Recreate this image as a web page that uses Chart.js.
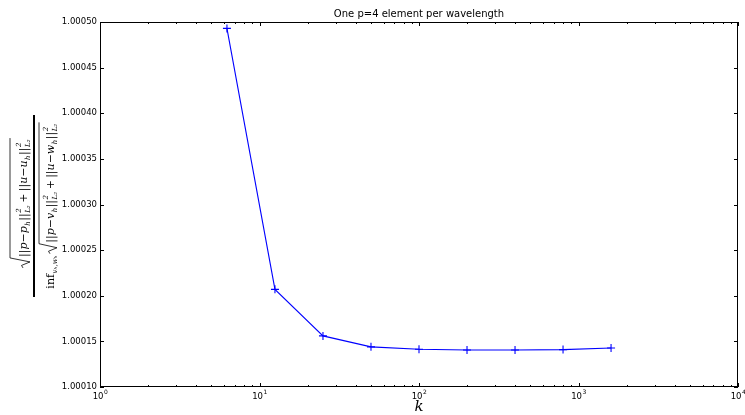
<!DOCTYPE html>
<html>
<head>
<meta charset="utf-8">
<script src="https://cdn.jsdelivr.net/npm/chart.js@4.4.1/dist/chart.umd.min.js"></script>
<style>
  html, body { margin: 0; padding: 0; background: #fff; }
  #wrap { width: 745px; height: 415px; }
</style>
</head>
<body>
<div id="wrap"><canvas id="ratioChart" width="745" height="415"></canvas></div>
<script>
// k values (elements per wavelength sweep) and the error ratio
const kValues = [6.25, 12.5, 25, 50, 100, 200, 400, 800, 1600];
const ratioValues = [1.000493, 1.000207, 1.000156, 1.000144, 1.0001414, 1.0001406, 1.0001406, 1.000141, 1.0001428];

const xMajorTicks = [1, 10, 100, 1000, 10000];
const xTickExponents = ["0", "1", "2", "3", "4"];
const yTicks = [1.0001, 1.00015, 1.0002, 1.00025, 1.0003, 1.00035, 1.0004, 1.00045, 1.0005];
const yTickLabels = ["1.00010", "1.00015", "1.00020", "1.00025", "1.00030", "1.00035", "1.00040", "1.00045", "1.00050"];

const titleText = "One p=4 element per wavelength";
const xTitle = "k";

// pieces of the y-axis fraction (strings = main font, objects = scripts)
const numItems = ["||p−p", { sub: "h" }, "||", { sup: "2", sub: "L₂" }, "\u2009+\u2009||u−u", { sub: "h" }, "||", { sup: "2", sub: "L₂" }];
const denItems = ["||p−v", { sub: "h" }, "||", { sup: "2", sub: "L₂" }, "\u2009+\u2009||u−w", { sub: "h" }, "||", { sup: "2", sub: "L₂" }];

const mainFont = 'italic 11px "DejaVu Serif"';
const scriptFont = 'italic 7px "DejaVu Serif"';

function runMath(ctx, items, x, b, draw) {
  items.forEach((it) => {
    if (typeof it === "string") {
      ctx.font = mainFont;
      if (draw) ctx.fillText(it, x, b);
      x += ctx.measureText(it).width;
    } else {
      ctx.font = scriptFont;
      let w = 0;
      if (it.sup) {
        if (draw) ctx.fillText(it.sup, x + 0.5, b - 6);
        w = Math.max(w, ctx.measureText(it.sup).width);
      }
      if (it.sub) {
        if (draw) ctx.fillText(it.sub, x + 0.5, b + 3);
        w = Math.max(w, ctx.measureText(it.sub).width);
      }
      x += w + 1;
    }
  });
  return x;
}

function drawRadical(ctx, x0, b, top, end) {
  ctx.beginPath();
  ctx.moveTo(x0, b - 4);
  ctx.lineTo(x0 + 2.5, b - 5.5);
  ctx.lineTo(x0 + 6, b + 3);
  ctx.lineTo(x0 + 10, top);
  ctx.lineTo(end, top);
  ctx.stroke();
}

const decor = {
  id: "decor",
  afterDraw(chart) {
    const ctx = chart.ctx;
    const a = chart.chartArea;
    const xs = chart.scales.x;
    const ys = chart.scales.y;
    ctx.save();
    ctx.strokeStyle = "#000";
    ctx.fillStyle = "#000";
    ctx.lineWidth = 1;

    // frame
    ctx.strokeRect(Math.round(a.left) + 0.5, Math.round(a.top) + 0.5,
      Math.round(a.right - a.left) - 1, Math.round(a.bottom - a.top) - 1);

    // ticks, pointing inward
    const tick = (x1, y1, x2, y2) => {
      ctx.beginPath(); ctx.moveTo(x1, y1); ctx.lineTo(x2, y2); ctx.stroke();
    };
    xMajorTicks.forEach((v, i) => {
      const px = Math.round(xs.getPixelForValue(v)) + 0.5;
      tick(px, a.bottom, px, a.bottom - 4);
      tick(px, a.top, px, a.top + 4);
      if (i < xMajorTicks.length - 1) {
        for (let m = 2; m <= 9; m++) {
          const mx = Math.round(xs.getPixelForValue(v * m)) + 0.5;
          tick(mx, a.bottom, mx, a.bottom - 2);
          tick(mx, a.top, mx, a.top + 2);
        }
      }
    });
    yTicks.forEach((v) => {
      const py = Math.round(ys.getPixelForValue(v)) + 0.5;
      tick(a.left, py, a.left + 4, py);
      tick(a.right, py, a.right - 4, py);
    });

    // x tick labels as 10^n
    ctx.textBaseline = "alphabetic";
    xMajorTicks.forEach((v, i) => {
      const px = xs.getPixelForValue(v);
      ctx.font = '8.5px "DejaVu Sans"';
      const wb = ctx.measureText("10").width;
      ctx.font = '6px "DejaVu Sans"';
      const we = ctx.measureText(xTickExponents[i]).width;
      const x0 = px - (wb + we) / 2;
      ctx.font = '8.5px "DejaVu Sans"';
      ctx.textAlign = "left";
      ctx.fillText("10", x0, a.bottom + 12);
      ctx.font = '6px "DejaVu Sans"';
      ctx.fillText(xTickExponents[i], x0 + wb + 0.5, a.bottom + 7);
    });

    // title
    ctx.textAlign = "center";
    ctx.font = '10px "DejaVu Sans"';
    ctx.fillText(titleText, (a.left + a.right) / 2, 17);

    // x axis title
    ctx.font = 'italic 15px "DejaVu Serif"';
    ctx.fillText(xTitle, (a.left + a.right) / 2, 411);

    // y axis title: rotated fraction
    ctx.translate(34, 206);
    ctx.rotate(-Math.PI / 2);
    ctx.textAlign = "left";
    ctx.lineWidth = 0.8;

    const bN = -7;
    const numW = runMath(ctx, numItems, 0, bN, false);
    const numTotal = 11 + numW;
    const nx0 = 2.5 - numTotal / 2;
    drawRadical(ctx, nx0, bN, bN - 17, nx0 + numTotal + 1);
    runMath(ctx, numItems, nx0 + 11, bN, true);

    ctx.fillRect(-91, -1, 182, 2);

    const bD = 20;
    ctx.font = '11px "DejaVu Serif"';
    const infW = ctx.measureText("inf").width;
    ctx.font = scriptFont;
    const subW = ctx.measureText("vₕ,wₕ").width;
    const denW = runMath(ctx, denItems, 0, bD, false);
    const denTotal = infW + subW + 2 + 11 + denW;
    let dx = -denTotal / 2;
    ctx.font = '11px "DejaVu Serif"';
    ctx.fillText("inf", dx, bD);
    dx += infW;
    ctx.font = scriptFont;
    ctx.fillText("vₕ,wₕ", dx + 0.5, bD + 3);
    dx += subW + 2;
    drawRadical(ctx, dx, bD, bD - 15, dx + 11 + denW + 1);
    runMath(ctx, denItems, dx + 11, bD, true);

    ctx.restore();
  }
};

new Chart(document.getElementById("ratioChart"), {
  type: "line",
  data: {
    datasets: [
      {
        data: kValues.map((k, i) => ({ x: k, y: ratioValues[i] })),
        borderColor: "#0000ff",
        borderWidth: 1.1,
        pointStyle: "cross",
        pointRadius: 4,
        pointBorderColor: "#0000ff",
        pointBorderWidth: 1.1,
        tension: 0,
        fill: false
      }
    ]
  },
  options: {
    responsive: false,
    animation: false,
    layout: { padding: { left: 0, right: 7, top: 22, bottom: 0 } },
    plugins: {
      legend: { display: false },
      tooltip: { enabled: false }
    },
    scales: {
      x: {
        type: "logarithmic",
        min: 1,
        max: 10000,
        grid: { display: false, drawTicks: false },
        border: { display: false },
        ticks: { display: false },
        afterBuildTicks: (s) => { s.ticks = xMajorTicks.map((v) => ({ value: v })); },
        afterFit: (s) => { s.height = 28; }
      },
      y: {
        min: 1.0001,
        max: 1.0005,
        grid: { display: false, drawTicks: false },
        border: { display: false },
        ticks: {
          color: "#000",
          font: { family: "DejaVu Sans", size: 8.5 },
          padding: 3,
          callback: (v, i) => yTickLabels[i]
        },
        afterBuildTicks: (s) => { s.ticks = yTicks.map((v) => ({ value: v })); },
        afterFit: (s) => { s.width = 100; }
      }
    }
  },
  plugins: [decor]
});
</script>
</body>
</html>
